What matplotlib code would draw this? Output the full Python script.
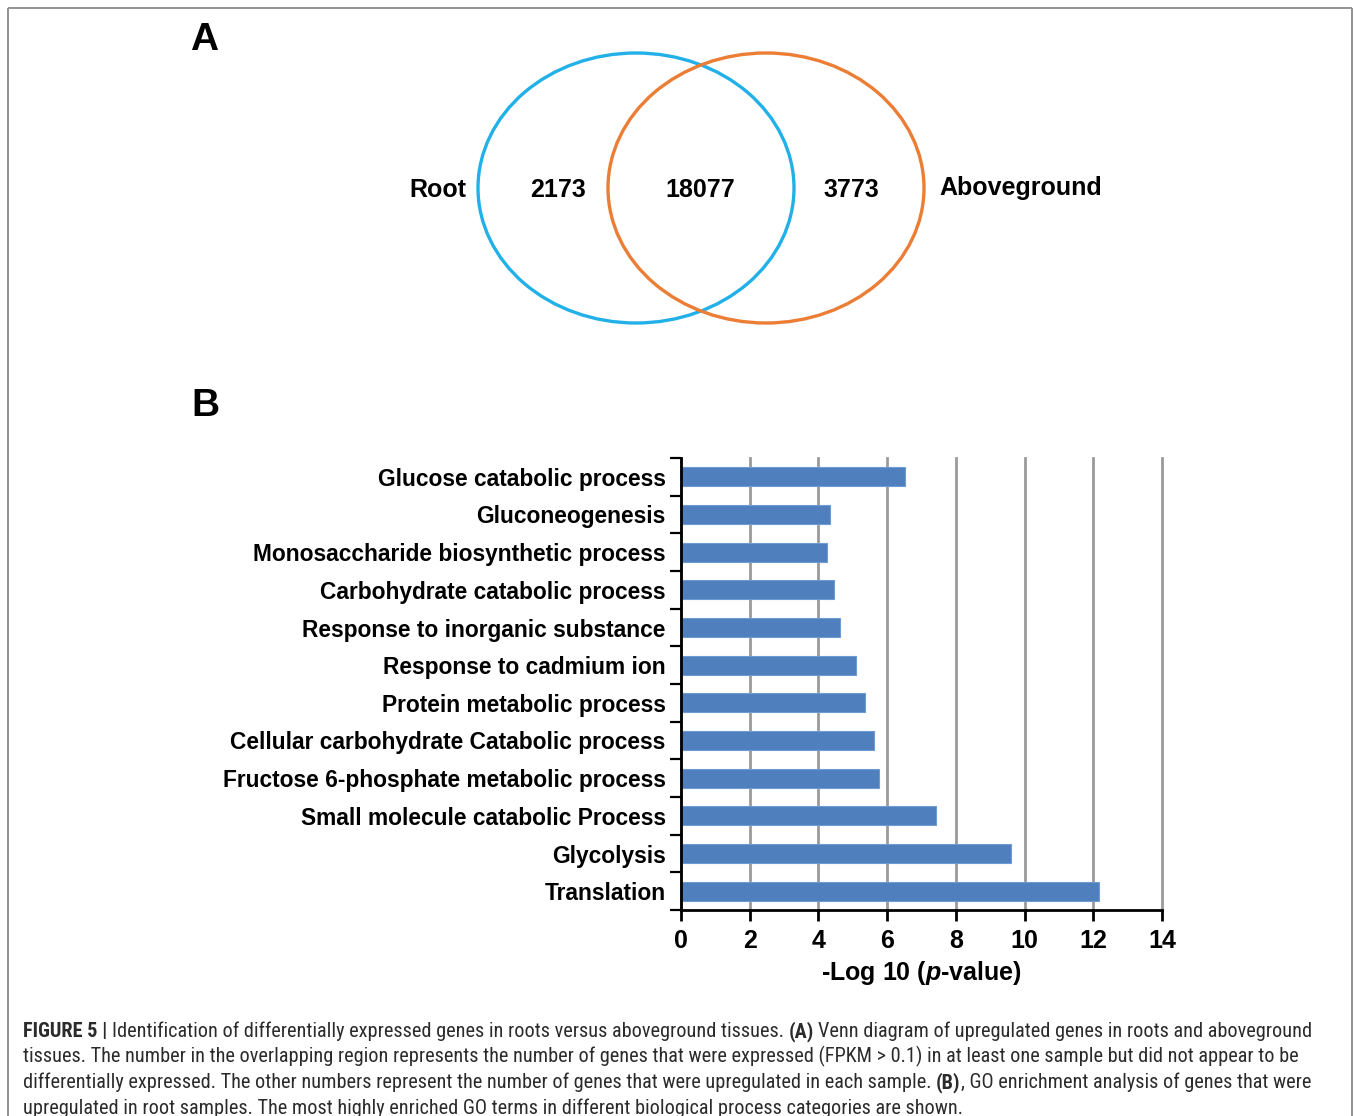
import matplotlib
matplotlib.use("Agg")
import matplotlib.pyplot as plt
from matplotlib.patches import Ellipse
from matplotlib import font_manager as fm
from matplotlib.ticker import FixedLocator

# ---------------- data ----------------
categories = [
    "Translation",
    "Glycolysis",
    "Small molecule catabolic Process",
    "Fructose 6-phosphate metabolic process",
    "Cellular carbohydrate Catabolic process",
    "Protein metabolic process",
    "Response to cadmium ion",
    "Response to inorganic substance",
    "Carbohydrate catabolic process",
    "Monosaccharide biosynthetic process",
    "Gluconeogenesis",
    "Glucose catabolic process",
]
neg_log10_p = [12.17, 9.60, 7.41, 5.77, 5.63, 5.37, 5.08, 4.63, 4.44, 4.24, 4.34, 6.52]
x_ticks = [0, 2, 4, 6, 8, 10, 12, 14]

venn_sets = ["Root", "Aboveground"]
venn_counts = [2173, 18077, 3773]  # root only, shared, aboveground only

caption_lines = [
    [("FIGURE 5 |", True), ("Identification of differentially expressed genes in roots versus aboveground tissues.", False),
     ("(A)", True), ("Venn diagram of upregulated genes in roots and aboveground", False)],
    [("tissues. The number in the overlapping region represents the number of genes that were expressed (FPKM > 0.1) in at least one sample but did not appear to be", False)],
    [("differentially expressed. The other numbers represent the number of genes that were upregulated in each sample.", False),
     ("(B)", True), (", GO enrichment analysis of genes that were", False)],
    [("upregulated in root samples. The most highly enriched GO terms in different biological process categories are shown.", False)],
]

# ---------------- style ----------------
W, H, DPI = 1355, 1116, 100
plt.rcParams["font.family"] = ["Liberation Sans", "DejaVu Sans"]
plt.rcParams["mathtext.fontset"] = "custom"
plt.rcParams["mathtext.it"] = "Liberation Sans:italic:bold"
plt.rcParams["mathtext.rm"] = "Liberation Sans:bold"

LAB = fm.FontProperties(family="Liberation Sans", weight="bold")

fig = plt.figure(figsize=(W / DPI, H / DPI), dpi=DPI)
fig.patch.set_facecolor("white")

# overlay axes in pixel coordinates
ov = fig.add_axes([0, 0, 1, 1], zorder=0)
ov.set_xlim(0, W)
ov.set_ylim(H, 0)
ov.axis("off")
ov.patch.set_alpha(0)

# frame
frame_col = "#8a8a8a"
ov.plot([8, 8], [H + 5, 7.5], color=frame_col, lw=1.3, solid_capstyle="butt")
ov.plot([8, 1352], [7.5, 7.5], color=frame_col, lw=1.3, solid_capstyle="butt")
ov.plot([1352, 1352], [7.5, H + 5], color=frame_col, lw=1.3, solid_capstyle="butt")


def bold_fp(size):
    p = LAB.copy()
    p.set_size(size)
    return p


# panel letters
ov.text(190, 50, "A", fontproperties=bold_fp(28), ha="left", va="baseline")
ov.text(191, 416, "B", fontproperties=bold_fp(28), ha="left", va="baseline")

# ---------------- Venn ----------------
ov.add_patch(Ellipse((636, 188), 316, 270, fill=False, edgecolor="#22b0e8", lw=2.4))
ov.add_patch(Ellipse((766, 188), 316, 270, fill=False, edgecolor="#ec7d35", lw=2.4))
vfs = 18
ov.text(466, 190, venn_sets[0], fontproperties=bold_fp(vfs), ha="right", va="center")
ov.text(939, 188, venn_sets[1], fontproperties=bold_fp(vfs), ha="left", va="center")
ov.text(558, 190, str(venn_counts[0]), fontproperties=bold_fp(vfs), ha="center", va="center")
ov.text(700, 190, str(venn_counts[1]), fontproperties=bold_fp(vfs), ha="center", va="center")
ov.text(851, 190, str(venn_counts[2]), fontproperties=bold_fp(vfs), ha="center", va="center")

# ---------------- bar chart ----------------
ax_l, ax_r, ax_t, ax_b = 681, 1162, 458, 910
ax = fig.add_axes([ax_l / W, 1 - ax_b / H, (ax_r - ax_l) / W, (ax_b - ax_t) / H], zorder=2)
ax.patch.set_alpha(0)
ypos = list(range(len(categories)))
ax.barh(ypos, neg_log10_p, height=0.5, color="#4f80bd", edgecolor="#6f9bd3", lw=0.8, zorder=3)
ax.set_xlim(0, 14)
ax.set_ylim(-0.5, len(categories) - 0.5)
ax.set_xticks(x_ticks)
ax.set_xticklabels([str(v) for v in x_ticks], fontproperties=bold_fp(18))
ax.set_yticks(ypos)
ax.set_yticklabels(categories, fontproperties=bold_fp(16.4))
ax.yaxis.set_minor_locator(FixedLocator([i - 0.5 for i in range(len(categories) + 1)]))
ax.tick_params(axis="y", which="major", length=0, pad=11)
ax.tick_params(axis="y", which="minor", length=8, width=1.6, direction="out", color="black")
ax.tick_params(axis="x", which="major", length=8, width=2, direction="out", color="black", pad=6)
for s in ["top", "right"]:
    ax.spines[s].set_visible(False)
for s in ["left", "bottom"]:
    ax.spines[s].set_linewidth(2)
    ax.spines[s].set_zorder(4)
ax.grid(axis="x", color="#9a9a9a", lw=2, zorder=1)
for gl in ax.get_xgridlines():
    gl.set_clip_on(False)
ax.set_axisbelow(True)
ax.set_xlabel(r"-Log 10 ($\mathit{p}$-value)", fontproperties=bold_fp(18), labelpad=4)

# ---------------- caption ----------------
def _w(v):
    if isinstance(v, str):
        return fm.weight_dict.get(v.lower(), 400)
    return int(v)


def find_condensed():
    groups = {}
    for f in fm.fontManager.ttflist:
        nm = f.name
        st = str(f.stretch).lower()
        narrow = ("Narrow" in nm) or ("Condensed" in nm) or ("condensed" in st and "semi" not in st and "extra" not in st and "ultra" not in st)
        if not narrow or f.style != "normal":
            continue
        key = (nm, st)
        groups.setdefault(key, {})
        w = _w(f.weight)
        if w in (400, 500) and "reg" not in groups[key]:
            groups[key]["reg"] = f.fname
        if w == 700:
            groups[key]["bold"] = f.fname
    prefs = ["Liberation Sans Narrow", "Roboto Condensed", "Open Sans Condensed", "DejaVu Sans Condensed", "DejaVu Sans"]
    for p in prefs:
        for (nm, st), d in groups.items():
            if nm == p and "reg" in d and "bold" in d:
                return fm.FontProperties(fname=d["reg"]), fm.FontProperties(fname=d["bold"])
    for (nm, st), d in groups.items():
        if "reg" in d and "bold" in d:
            return fm.FontProperties(fname=d["reg"]), fm.FontProperties(fname=d["bold"])
    return (fm.FontProperties(family="Liberation Sans", weight="normal"),
            fm.FontProperties(family="Liberation Sans", weight="bold"))


fp_reg, fp_bold = find_condensed()
cap_color = "#2b2b2b"
renderer = fig.canvas.get_renderer()


def fprop(bold, size):
    p = (fp_bold if bold else fp_reg).copy()
    p.set_size(size)
    return p


def measure(s, size, bold):
    t = ov.text(0, 0, s, fontproperties=fprop(bold, size))
    w = t.get_window_extent(renderer=renderer).width
    t.remove()
    return w


def space_w(size):
    return measure("a a", size, False) - measure("aa", size, False)


def line_width(pieces, size):
    sp = space_w(size)
    total = 0
    for i, (s, b) in enumerate(pieces):
        if i > 0 and not s.startswith(","):
            total += sp
        total += measure(s, size, b)
    return total


target = 1315 - 23
size = 10.0
for _ in range(4):
    size = size * target / line_width(caption_lines[0], size)

baselines = [1037, 1062.5, 1088, 1113.5]
sp = space_w(size)
for pieces, yb in zip(caption_lines, baselines):
    x = 23
    for i, (s, b) in enumerate(pieces):
        if i > 0 and not s.startswith(","):
            x += sp
        ov.text(x, yb, s, fontproperties=fprop(b, size), color=cap_color, ha="left", va="baseline")
        x += measure(s, size, b)

fig.savefig("out.png", dpi=DPI, facecolor="white")
